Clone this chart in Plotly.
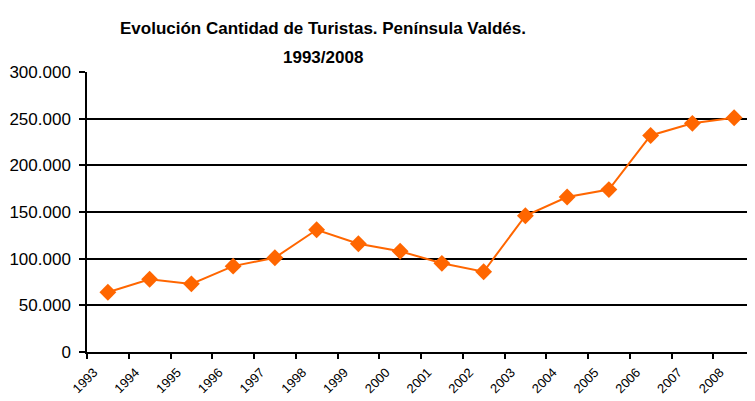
import plotly.graph_objects as go

years = ["1993", "1994", "1995", "1996", "1997", "1998", "1999", "2000",
         "2001", "2002", "2003", "2004", "2005", "2006", "2007", "2008"]
turistas = [64000, 78000, 73000, 92000, 101000, 131000, 116000, 108000,
            95000, 86000, 146000, 166000, 174000, 232000, 245000, 251000]
y_ticks = [0, 50000, 100000, 150000, 200000, 250000, 300000]

orange = "#FF6600"

fig = go.Figure()
fig.add_trace(go.Scatter(
    x=years, y=turistas, mode="lines+markers",
    line=dict(color=orange, width=2),
    marker=dict(symbol="diamond", size=13, color=orange),
    showlegend=False, cliponaxis=False,
))

fig.update_layout(
    width=747, height=393,
    margin=dict(l=79, r=0, t=64, b=49, autoexpand=False),
    paper_bgcolor="white", plot_bgcolor="white",
    separators=",.",
    font=dict(family="Liberation Sans, Arial, sans-serif", color="black"),
    annotations=[
        dict(text="<b>Evolución Cantidad de Turistas. Península Valdés.</b>",
             xref="paper", yref="paper", x=0.353, y=1.155,
             xanchor="center", yanchor="middle", showarrow=False,
             font=dict(size=17, color="black")),
        dict(text="<b>1993/2008</b>",
             xref="paper", yref="paper", x=0.353, y=1.05,
             xanchor="center", yanchor="middle", showarrow=False,
             font=dict(size=17, color="black")),
    ],
)

fig.update_xaxes(
    type="category", tickson="boundaries", automargin=False,
    showline=True, linecolor="black", linewidth=1.5,
    ticks="outside", ticklen=5, tickcolor="black", tickwidth=1.5,
    tickangle=-45, tickfont=dict(size=13), ticklabelshift=-14,
    ticklabelstandoff=6,
    showgrid=False, range=[-0.5, 15.5],
)
fig.update_yaxes(
    range=[0, 300000], tickvals=y_ticks, tickformat=",d", automargin=False,
    showline=True, linecolor="black", linewidth=1.5,
    ticks="outside", ticklen=6, tickcolor="black", tickwidth=1.5,
    ticklabelstandoff=5,
    showgrid=True, gridcolor="black", gridwidth=1.5,
    tickfont=dict(size=17), zeroline=False,
)

fig.write_html("out.html")
